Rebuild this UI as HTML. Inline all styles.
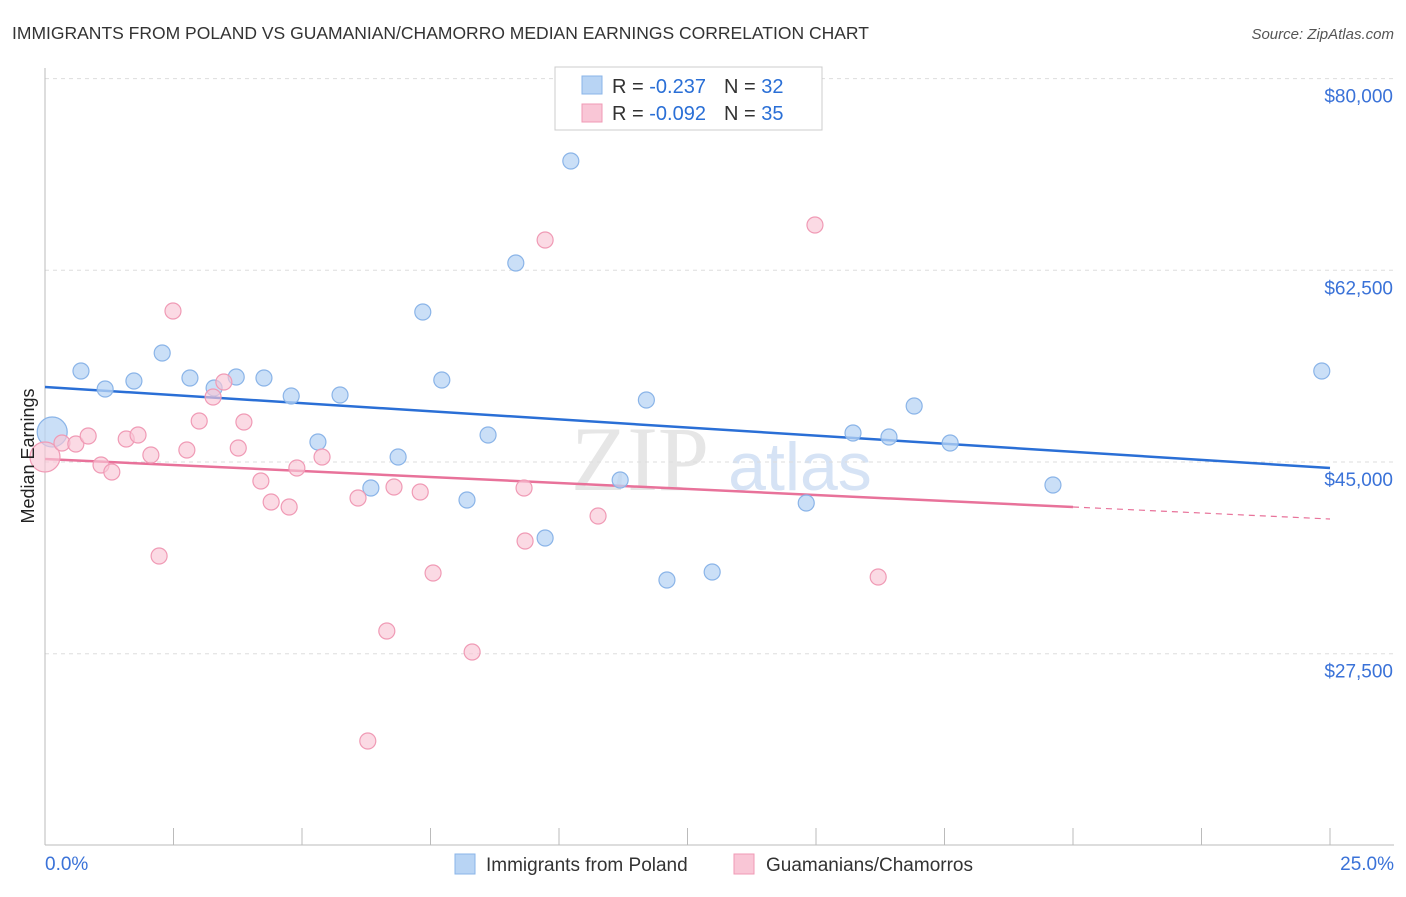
<!DOCTYPE html>
<html><head><meta charset="utf-8"><style>
body{margin:0;background:#fff;font-family:"Liberation Sans",sans-serif;}
</style></head><body>
<svg width="1406" height="892" xmlns="http://www.w3.org/2000/svg" id="chart" style="font-family:'Liberation Sans',sans-serif">
<text x="12" y="39" font-size="17.5" fill="#333">IMMIGRANTS FROM POLAND VS GUAMANIAN/CHAMORRO MEDIAN EARNINGS CORRELATION CHART</text>
<text x="1394" y="39" font-size="15" fill="#555" font-style="italic" text-anchor="end">Source: ZipAtlas.com</text>
<text x="640" y="490" font-size="92" fill="#e6e6e6" font-family="Liberation Serif,serif" text-anchor="middle">ZIP</text>
<text x="800" y="490" font-size="68" fill="#d6e3f5" text-anchor="middle">atlas</text>
<g id="grid"></g><g id="axes"></g><g id="trend"></g><g id="pts"></g>
<text transform="translate(34,456) rotate(-90)" font-size="18" fill="#222" text-anchor="middle">Median Earnings</text>
<g>
<rect x="555" y="67" width="267" height="63" fill="#fff" stroke="#ccc"/>
<rect x="582" y="76" width="20" height="18" fill="#b8d4f4" stroke="#8ab4e8"/>
<text x="612" y="93" font-size="20" fill="#333">R = <tspan fill="#2a6fd6">-0.237</tspan><tspan dx="18">N = </tspan><tspan fill="#2a6fd6">32</tspan></text>
<rect x="582" y="104" width="20" height="18" fill="#f9c6d6" stroke="#f09ab5"/>
<text x="612" y="120" font-size="20" fill="#333">R = <tspan fill="#2a6fd6">-0.092</tspan><tspan dx="18">N = </tspan><tspan fill="#2a6fd6">35</tspan></text>
</g>
<g>
<rect x="455" y="854" width="20" height="20" fill="#b8d4f4" stroke="#8ab4e8"/>
<text x="486" y="871" font-size="19" fill="#333">Immigrants from Poland</text>
<rect x="734" y="854" width="20" height="20" fill="#f9c6d6" stroke="#f09ab5"/>
<text x="766" y="871" font-size="19" fill="#333">Guamanians/Chamorros</text>
</g>
</svg>
<script>
const yTicks=[80000,62500,45000,27500];
const yTickLabels=["$80,000","$62,500","$45,000","$27,500"];
const xTickLabels=["0.0%","25.0%"];
const polandX=[0.14,0.70,1.17,1.73,2.28,2.82,3.29,3.72,4.26,4.79,5.74,5.31,6.34,6.87,7.35,7.72,8.21,8.62,9.16,9.73,10.23,11.19,11.70,12.10,12.98,14.81,15.72,16.42,16.91,17.61,19.61,24.84];
const polandY=[47739,53307,51664,52394,54951,52668,51755,52760,52668,51025,51116,46826,42626,45456,58694,52486,41531,47465,63167,38062,72478,43357,50660,34228,34958,41257,47647,47282,50112,46735,42900,53307];
const guamX=[0,0.33,0.60,0.84,1.09,1.30,1.58,1.81,2.06,2.22,2.49,2.76,3.00,3.27,3.48,3.76,3.87,4.20,4.40,4.75,4.90,5.39,6.09,6.28,6.65,6.79,7.30,7.55,8.31,9.32,9.34,9.73,10.76,14.98,16.21];
const guamY=[45456,46735,46643,47374,44726,44087,47100,47465,45639,36419,58785,46095,48743,50934,52303,46278,48652,43265,41348,40892,44452,45456,41714,19530,29572,42718,42261,34867,27655,42626,37788,65266,40070,66636,34502];
const polandTrend=[51847,44452];
const guamTrend=[45274,39796];
const ns="http://www.w3.org/2000/svg";
const X=p=>45+p*(1285/25);
const Y=v=>462-(v-45000)*0.010954;
function mk(t,a,parent){const e=document.createElementNS(ns,t);for(const k in a)e.setAttribute(k,a[k]);document.getElementById(parent).appendChild(e);return e;}
yTicks.forEach((v,i)=>{
 const l=mk('line',{x1:45,x2:1394,y1:Y(v),y2:Y(v),stroke:'#ddd','stroke-dasharray':'4,4'},'grid');
 
 
 const t=mk('text',{x:1393,y:Y(v)+24,'font-size':19,fill:'#3a72d8','text-anchor':'end'},'grid');
 t.textContent=yTickLabels[i];
 
 
});
const ax=mk('line',{x1:45,x2:45,y1:68,y2:845,stroke:'#bbb'},'axes');


const bx=mk('line',{x1:45,x2:1394,y1:845,y2:845,stroke:'#bbb'},'axes');


for(let i=1;i<=10;i++){const tk=mk('line',{x1:X(i*2.5),x2:X(i*2.5),y1:828,y2:845,stroke:'#bbb'},'axes');
 
 }
[[0,'start',45],[25,'end',1394]].forEach((d,i)=>{const t=mk('text',{x:d[2],y:870,'font-size':19,fill:'#3a72d8','text-anchor':d[1]},'axes');t.textContent=xTickLabels[i];
 
 });
const bl=mk('line',{x1:X(0),x2:X(25),y1:Y(polandTrend[0]),y2:Y(polandTrend[1]),stroke:'#2a6fd6','stroke-width':2.5},'trend');


const gm=v=>guamTrend[0]+(guamTrend[1]-guamTrend[0])*v/25;
const pl=mk('line',{x1:X(0),x2:X(20),y1:Y(gm(0)),y2:Y(gm(20)),stroke:'#e8729a','stroke-width':2.5},'trend');


const pd=mk('line',{x1:X(20),x2:X(25),y1:Y(gm(20)),y2:Y(gm(25)),stroke:'#e8729a','stroke-width':1.2,'stroke-dasharray':'6,5'},'trend');


polandX.forEach((x,i)=>{const c=mk('circle',{cx:X(x),cy:Y(polandY[i]),r:i==0?15:8,fill:'#b8d4f4','fill-opacity':0.75,stroke:'#8ab4e8','stroke-width':1.2},'pts');
 
 });
guamX.forEach((x,i)=>{const c=mk('circle',{cx:X(x),cy:Y(guamY[i]),r:i==0?15:8,fill:'#f9c6d6','fill-opacity':0.65,stroke:'#f09ab5','stroke-width':1.2},'pts');
 
 });
</script>
</body></html>
